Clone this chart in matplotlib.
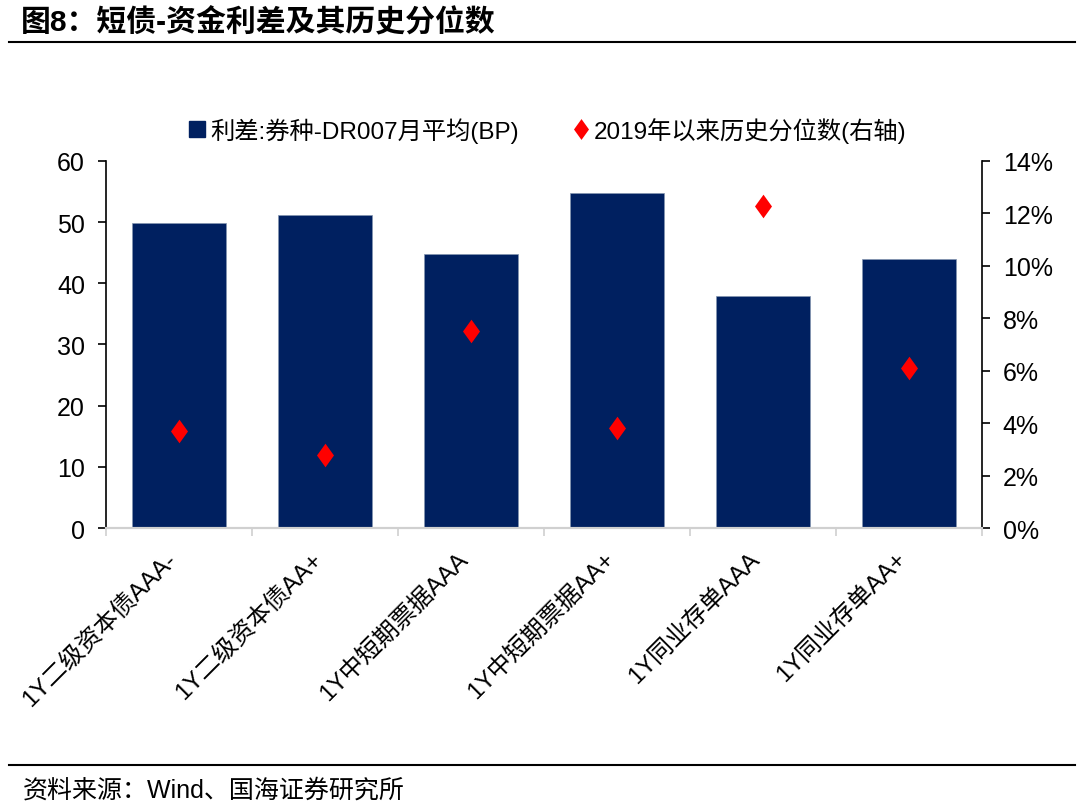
import matplotlib
matplotlib.use("Agg")
import matplotlib.pyplot as plt
from matplotlib.lines import Line2D
from matplotlib.transforms import ScaledTranslation
from matplotlib.ticker import FuncFormatter, FixedLocator, NullFormatter

plt.rcParams['font.family'] = ['Liberation Sans', 'Noto Sans CJK SC']
plt.rcParams['axes.unicode_minus'] = False

categories = ['1Y二级资本债AAA-', '1Y二级资本债AA+', '1Y中短期票据AAA',
              '1Y中短期票据AA+', '1Y同业存单AAA', '1Y同业存单AA+']
spread_bp = [49.8, 51.1, 44.8, 54.8, 38.0, 44.0]
percentile = [0.037, 0.028, 0.075, 0.038, 0.123, 0.061]

navy = '#002060'
red = '#FF0000'
diamond = [(0, 1), (0.72, 0), (0, -1), (-0.72, 0), (0, 1)]

fig = plt.figure(figsize=(10.8, 8.03), dpi=100)
ax = fig.add_axes([0.0981, 0.3412, 0.811, 0.4571])
ax2 = ax.twinx()

x = list(range(len(categories)))
ax.bar(x, spread_bp, width=0.64, color=navy, edgecolor='#8496b0', linewidth=0.5, zorder=2)
ax2.plot(x, percentile, linestyle='none', marker=diamond, markersize=17,
         color=red, markeredgewidth=0, zorder=3)

ax.set_xlim(-0.5, len(categories) - 0.5)
ax.set_ylim(0, 60)
ax.set_yticks(range(0, 61, 10))
ax2.set_ylim(0, 0.14)
ax2.set_yticks([i / 100 for i in range(0, 15, 2)])
ax2.yaxis.set_major_formatter(FuncFormatter(lambda v, p: f'{v * 100:.0f}%'))

# x ticks between categories, labels at centers
ax.set_xticks(x)
ax.set_xticklabels(categories, rotation=45, ha='right', va='top',
                   rotation_mode='anchor', fontsize=17.5)
ax.tick_params(axis='x', length=0, pad=14)
shift = ScaledTranslation(-14 / 100, 0, fig.dpi_scale_trans)
for lbl in ax.get_xticklabels():
    lbl.set_transform(lbl.get_transform() + shift)
ax.xaxis.set_minor_locator(FixedLocator([i + 0.5 for i in range(-1, len(categories))]))
ax.xaxis.set_minor_formatter(NullFormatter())
ax.tick_params(axis='x', which='minor', length=6, color='#d0d0d0', width=1.2)

ax.tick_params(axis='y', labelsize=18, length=6, width=1.2, color='black', pad=9)
ax2.tick_params(axis='y', labelsize=18, length=6, width=1.2, color='black', pad=9)

for a in (ax, ax2):
    a.spines['top'].set_visible(False)
    a.spines['bottom'].set_color('#d0d0d0')
    a.spines['bottom'].set_linewidth(1.5)
    a.spines['left'].set_linewidth(1.2)
    a.spines['right'].set_linewidth(1.2)
ax.spines['right'].set_visible(False)
ax2.spines['left'].set_visible(False)

handles = [
    Line2D([], [], linestyle='none', marker='s', markersize=11, color=navy),
    Line2D([], [], linestyle='none', marker=diamond, markersize=15, color=red, markeredgewidth=0),
]
labels = ['利差:券种-DR007月平均(BP)', '2019年以来历史分位数(右轴)']
fig.legend(handles, labels, loc='center', bbox_to_anchor=(0.507, 0.837), ncol=2,
           frameon=False, fontsize=17.5, handlelength=0.7, handletextpad=0.2,
           columnspacing=2.2)

# title and source
fig.text(0.019, 0.972, '图8：短债-资金利差及其历史分位数', fontsize=21.5, fontweight='bold',
         va='center', ha='left')
fig.add_artist(Line2D([0.008, 0.995], [0.947, 0.947], color='black', linewidth=1.5))
fig.add_artist(Line2D([0.008, 0.995], [0.046, 0.046], color='black', linewidth=1.5))
fig.text(0.021, 0.016, '资料来源：Wind、国海证券研究所', fontsize=18, va='center', ha='left')

fig.savefig('out.png', dpi=100)
